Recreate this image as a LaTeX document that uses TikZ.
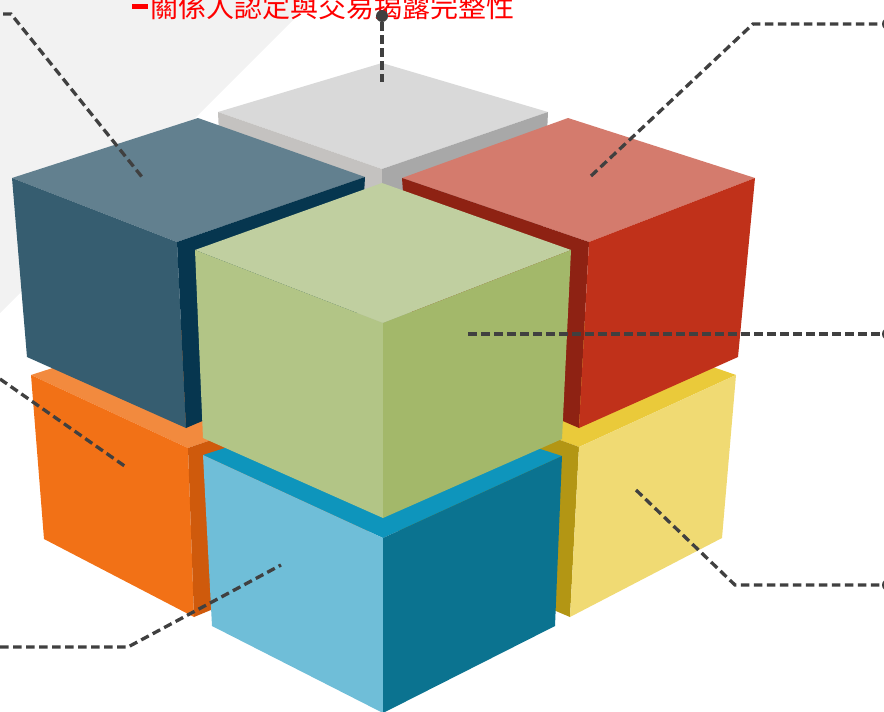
\documentclass[tikz,border=0pt]{standalone}
\usepackage{fontspec}
\newfontfamily\cjkfont{Noto Sans CJK TC}
\definecolor{bgc}{HTML}{F2F2F2}
\definecolor{leadc}{HTML}{404040}
\definecolor{orT}{HTML}{F28A3E}
\definecolor{orL}{HTML}{F27116}
\definecolor{orR}{HTML}{CF5A0C}
\definecolor{yeT}{HTML}{EACA3A}
\definecolor{yeL}{HTML}{B39614}
\definecolor{yeR}{HTML}{F0DA73}
\definecolor{lbT}{HTML}{0E95BC}
\definecolor{lbL}{HTML}{6FBED8}
\definecolor{lbR}{HTML}{0B7390}
\definecolor{grT}{HTML}{D9D9D9}
\definecolor{grL}{HTML}{C4C2C0}
\definecolor{grR}{HTML}{A8A8A8}
\definecolor{dbT}{HTML}{62808F}
\definecolor{dbL}{HTML}{365D70}
\definecolor{dbR}{HTML}{06364F}
\definecolor{rdT}{HTML}{D47B6D}
\definecolor{rdL}{HTML}{8E2213}
\definecolor{rdR}{HTML}{C0311A}
\definecolor{gnT}{HTML}{C0CFA0}
\definecolor{gnL}{HTML}{B2C586}
\definecolor{gnR}{HTML}{A3B86A}
\begin{document}
\begin{tikzpicture}[x=1pt,y=-1pt,
  lead/.style={draw=leadc, line width=3.3pt, dash pattern=on 8.5pt off 4.5pt},
  leaddot/.style={circle, fill=leadc, inner sep=0pt, minimum size=12pt},
  titletext/.style={anchor=base west, text=red, inner sep=0pt, font=\cjkfont\fontsize{28}{28}\selectfont}]
\useasboundingbox (0,0) rectangle (884,712);
\clip (0,0) rectangle (884,712);
% background wedge
\fill[bgc] (0,0) -- (313,0) -- (0,313) -- cycle;
% lower layer: orange (left), yellow (right), light blue (front)
\fill[orT] (217,315) -- (31,375) -- (188,448) -- (376,383) -- cycle;
\fill[orL] (31,375) -- (188,448) -- (194,617) -- (44,539) -- cycle;
\fill[orR] (188,448) -- (376,383) -- (368,545) -- (194,617) -- cycle;
\fill[yeT] (548,310) -- (392,378) -- (579,447) -- (736,375) -- cycle;
\fill[yeL] (392,378) -- (579,447) -- (570,617) -- (400,545) -- cycle;
\fill[yeR] (579,447) -- (736,375) -- (722,538) -- (570,617) -- cycle;
\fill[lbT] (382,398) -- (203,455) -- (383,538) -- (562,456) -- cycle;
\fill[lbL] (203,455) -- (383,538) -- (383,713) -- (212,626) -- cycle;
\fill[lbR] (383,538) -- (562,456) -- (555,626) -- (383,713) -- cycle;
% upper layer: gray (back), dark blue (left), red (right), green (front)
\fill[grT] (382,63) -- (218,112) -- (382,169) -- (548,112) -- cycle;
\fill[grL] (218,112) -- (382,169) -- (382,350) -- (226,290) -- cycle;
\fill[grR] (382,169) -- (548,112) -- (540,290) -- (382,350) -- cycle;
\fill[dbT] (198,118) -- (12,178) -- (177,242) -- (365,177) -- cycle;
\fill[dbL] (12,178) -- (177,242) -- (186,428) -- (27,357) -- cycle;
\fill[dbR] (177,242) -- (365,177) -- (355,356) -- (186,428) -- cycle;
\fill[rdT] (568,118) -- (402,178) -- (589,242) -- (755,178) -- cycle;
\fill[rdL] (402,178) -- (589,242) -- (579,428) -- (415,357) -- cycle;
\fill[rdR] (589,242) -- (755,178) -- (738,357) -- (579,428) -- cycle;
\fill[gnT] (382,183) -- (195,250) -- (383,323) -- (571,250) -- cycle;
\fill[gnL] (195,250) -- (383,323) -- (383,518) -- (203,438) -- cycle;
\fill[gnR] (383,323) -- (571,250) -- (562,439) -- (383,518) -- cycle;
% title
\fill[red] (132,4) rectangle (148,9);
\node[titletext] (title) at (150,17) {關係人認定與交易揭露完整性};
% leader dots and points
\node[leaddot] (d1) at (382,16) {};
\node[leaddot] (d2) at (888,24) {};
\node[leaddot] (d3) at (888,334) {};
\node[leaddot] (d4) at (888,585) {};
\coordinate (e1) at (382,82);
\coordinate (e2) at (591,176);
\coordinate (b2) at (753,24);
\coordinate (e3) at (468,334);
\coordinate (e4) at (636,490);
\coordinate (b4) at (735,585);
\coordinate (s5) at (3,14);
\coordinate (b5) at (11,14);
\coordinate (e5) at (142,177);
\coordinate (s6) at (0,379);
\coordinate (e6) at (126,467);
\coordinate (s7) at (0,647);
\coordinate (b7) at (128,647);
\coordinate (e7) at (281,565);
% leaders
\draw[lead] (d1) -- (e1);
\draw[lead] (e2) -- (b2) -- (d2);
\draw[lead] (e3) -- (d3);
\draw[lead] (e4) -- (b4) -- (d4);
\draw[lead] (s5) -- (b5) -- (e5);
\draw[lead] (s6) -- (e6);
\draw[lead] (s7) -- (b7) -- (e7);
\end{tikzpicture}
\end{document}
